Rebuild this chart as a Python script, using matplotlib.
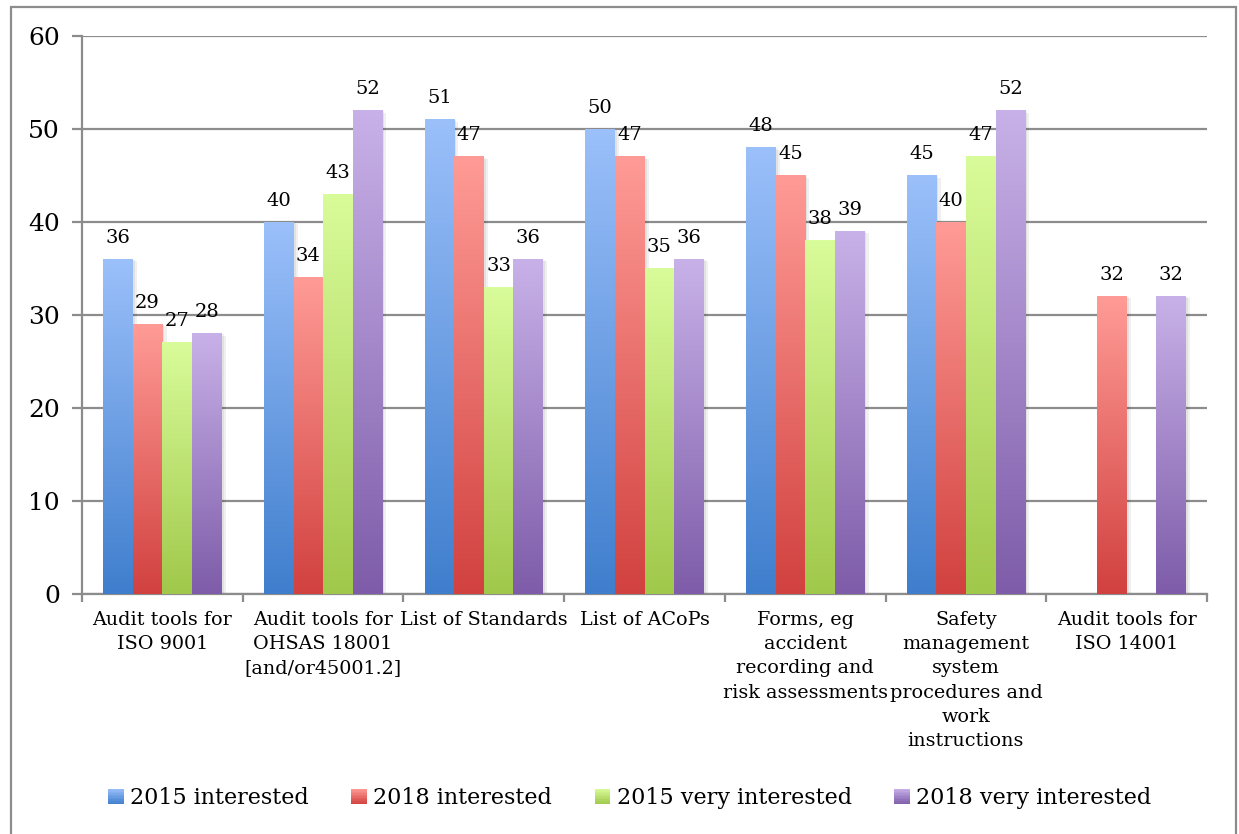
import numpy as np
import matplotlib
matplotlib.use('Agg')
import matplotlib.pyplot as plt
from matplotlib.colors import LinearSegmentedColormap
from matplotlib.patches import Rectangle
from matplotlib.legend_handler import HandlerBase
import matplotlib.patheffects as pe

plt.rcParams['font.family'] = ['DejaVu Serif']

categories = ['Audit tools for\nISO 9001',
              'Audit tools for\nOHSAS 18001\n[and/or45001.2]',
              'List of Standards',
              'List of ACoPs',
              'Forms, eg\naccident\nrecording and\nrisk assessments',
              'Safety\nmanagement\nsystem\nprocedures and\nwork\ninstructions',
              'Audit tools for\nISO 14001']

interested_2015 = [36, 40, 51, 50, 48, 45, np.nan]
interested_2018 = [29, 34, 47, 47, 45, 40, 32]
very_2015 = [27, 43, 33, 35, 38, 47, np.nan]
very_2018 = [28, 52, 36, 36, 39, 52, 32]

series = [('2015 interested', interested_2015),
          ('2018 interested', interested_2018),
          ('2015 very interested', very_2015),
          ('2018 very interested', very_2018)]

# (top colour, bottom colour) for each series
grads = [('#9bc0fa', '#3f7ecd'),
         ('#ff9b96', '#d1413f'),
         ('#d9fc9a', '#a0c84a'),
         ('#c8b1e8', '#7e5ca9')]

fig = plt.figure(figsize=(12.39, 8.34), dpi=100)
ax = fig.add_axes([0.0662, 0.2878, 0.9080, 0.6690])

# outer chart frame
fig.patches.append(Rectangle((11 / 1239, -0.01), 1225 / 1239, 827 / 834 + 0.01,
                             transform=fig.transFigure, fill=False,
                             ec='#8c8c8c', lw=1.6, zorder=0))

x = np.arange(len(categories))
w = 0.184
offsets = np.array([-1.5, -0.5, 0.5, 1.5]) * w

shadow = [pe.SimplePatchShadow(offset=(3, -1.5), shadow_rgbFace='#000000', alpha=0.06),
          pe.SimplePatchShadow(offset=(1.5, -0.5), shadow_rgbFace='#000000', alpha=0.06)]

for (name, vals), (top, bot), off in zip(series, grads, offsets):
    cmap = LinearSegmentedColormap.from_list(name, [bot, top])
    grad = np.linspace(1, 0, 256).reshape(-1, 1)
    bars = ax.bar(x + off, vals, w, facecolor='none', edgecolor='none', zorder=2)
    for rect, v in zip(bars, vals):
        if np.isnan(v):
            continue
        rect.set_path_effects(shadow)
        x0, y0 = rect.get_x(), rect.get_y()
        ax.imshow(grad, cmap=cmap, aspect='auto', zorder=3,
                  extent=[x0, x0 + rect.get_width(), y0, y0 + rect.get_height()])
        ax.annotate(f'{v:g}', (x0 + rect.get_width() / 2, v), xytext=(0, 9),
                    textcoords='offset points', ha='center', va='bottom',
                    fontsize=14, zorder=5)

ax.set_xlim(-0.5, len(categories) - 0.5)
ax.set_ylim(0, 60)
ax.set_yticks(np.arange(0, 61, 10))
ax.yaxis.grid(True, color='#8c8c8c', lw=1.6)
ax.set_axisbelow(True)
ax.tick_params(axis='y', length=7, width=1.6, color='#8c8c8c', labelsize=18, pad=9)

ax.set_xticks(x)
ax.set_xticklabels(categories, fontsize=13.8, linespacing=1.45)
ax.set_xticks(np.arange(-0.5, len(categories)), minor=True)
ax.tick_params(axis='x', which='major', length=0, pad=12)
ax.tick_params(axis='x', which='minor', length=6, width=1.6, color='#8c8c8c')

for s in ['top', 'right']:
    ax.spines[s].set_visible(False)
for s in ['left', 'bottom']:
    ax.spines[s].set_color('#8c8c8c')
    ax.spines[s].set_linewidth(1.6)


class GradientHandler(HandlerBase):
    def __init__(self, top, bot):
        super().__init__()
        self.top, self.bot = top, bot

    def create_artists(self, legend, orig_handle, xdescent, ydescent,
                       width, height, fontsize, trans):
        cmap = LinearSegmentedColormap.from_list('h', [self.bot, self.top])
        side = height * 1.0
        n = 10
        arts = []
        for i in range(n):
            arts.append(Rectangle((width - side, -ydescent + side * i / n), side, side / n,
                                  facecolor=cmap((i + 0.5) / n), edgecolor='none',
                                  transform=trans))
        return arts


handles = [Rectangle((0, 0), 1, 1) for _ in series]
fig.legend(handles, [s[0] for s in series], loc='center', bbox_to_anchor=(0.507, 0.043),
           ncol=4, frameon=False, fontsize=16, handlelength=0.85, handletextpad=0.3,
           columnspacing=1.75,
           handler_map={h: GradientHandler(t, b) for h, (t, b) in zip(handles, grads)})

fig.savefig('out.png', dpi=100)
